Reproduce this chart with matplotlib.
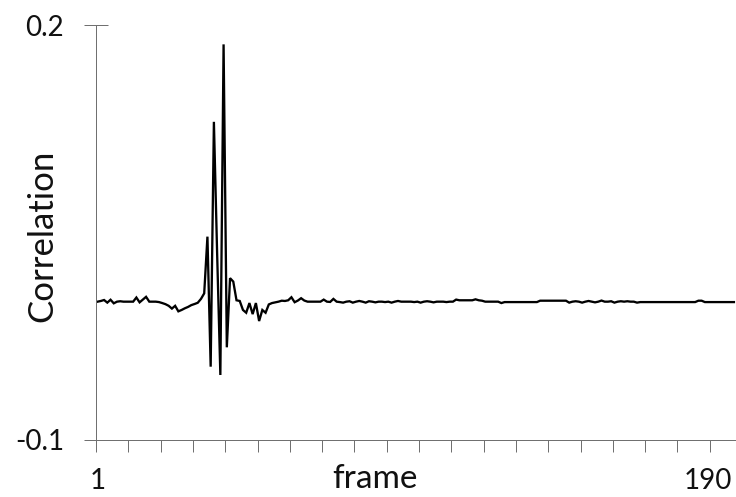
import numpy as np
import matplotlib
matplotlib.use('Agg')
import matplotlib.pyplot as plt

# ── Data: correlation per frame ─────────────────────────────────────────
corr_start = [  # frames 1-34
    0.0, 0.0005, 0.0012, -0.0007, 0.0014, -0.0012, 0.0, 0.0003, 0.0, 0.0,
    0.0, 0.0, 0.003, -0.0005, 0.0015, 0.0035, 0.0, 0.0, 0.0, -0.0003,
    -0.001, -0.0018, -0.003, -0.005, -0.003, -0.007, -0.006, -0.0048, -0.0038, -0.0025,
    -0.0017, -0.0008, 0.002, 0.006,
]
corr_spike = [  # frames 35-54
    0.047, -0.047, 0.130, 0.035, -0.053, 0.186, -0.033, 0.017, 0.0145, 0.001,
    0.0005, -0.006, -0.008, -0.001, -0.009, -0.001, -0.014, -0.006, -0.008, -0.002,
]
corr_tail = [  # frames 55-198
    -0.001, -0.0005, 0.0, 0.0007, 0.0005, 0.001, 0.0032, -0.0004, 0.0008, 0.0025,
    0.0008, 0.0, 0.0, 0.0, 0.0, 0.0, 0.0015, 0.0, -0.0002, 0.002,
    0.0, -0.0003, -0.0007, 0.0, 0.0003, -0.0007, 0.0, 0.0005, 0.0, -0.0007,
    0.0003, 0.0, -0.0005, 0.0, 0.0, -0.0003, 0.0, -0.0007, 0.0, 0.0005,
    0.0, 0.0, 0.0, 0.0, -0.0003, 0.0, -0.0007, 0.0, 0.0003, 0.0,
    -0.0005, 0.0, 0.0, 0.0, -0.0003, 0.0, 0.0, 0.0015, 0.001, 0.001,
    0.001, 0.001, 0.001, 0.0017, 0.001, 0.0007, 0.0, 0.0, 0.0, 0.0,
    0.0, -0.001, -0.0003, -0.0003, -0.0003, -0.0003, -0.0003, -0.0003, -0.0003, -0.0003,
    -0.0003, -0.0003, -0.0003, 0.0007, 0.0007, 0.0007, 0.0007, 0.0007, 0.0007, 0.0007,
    0.0007, 0.0007, -0.0007, 0.0, 0.0003, 0.0, -0.0007, 0.0, 0.0005, 0.0,
    -0.0005, 0.0, 0.0008, 0.0, 0.0, 0.0003, -0.0007, 0.0, 0.0003, 0.0,
    0.0003, 0.0, 0.0, -0.0007, -0.0003, -0.0003, -0.0003, -0.0003, -0.0003, -0.0003,
    -0.0003, -0.0003, -0.0003, -0.0003, -0.0003, -0.0003, -0.0003, -0.0003, -0.0003, -0.0003,
    -0.0003, -0.0003, 0.0007, 0.0007, -0.0003, -0.0003, -0.0003, -0.0003, -0.0003, -0.0003,
    -0.0003, -0.0003, -0.0003, -0.0003,
]
corr = np.array(corr_start + corr_spike + corr_tail)
frames = np.arange(1, len(corr) + 1)

x_labels = ['1', '190']
x_label_pos = [1, 190]
y_ticks = [-0.1, 0.2]
y_tick_labels = ['-0.1', '0.2']

# ── Plot ────────────────────────────────────────────────────────────────
plt.rcParams['font.family'] = ['Lato', 'DejaVu Sans']
axis_col = '#707070'
txt_col = '#111111'
px = 0.72  # points per pixel at dpi 100

fig = plt.figure(figsize=(7.36, 4.97), dpi=100)
W, H = 736, 497
ax = fig.add_axes([96 / W, (H - 440) / H, (W - 96) / W, 415 / H])

ax.plot(frames, corr, color='black', linewidth=2.3 * px, solid_joinstyle='miter')

ax.set_xlim(0.5, 0.5 + 640 / 3.23)
ax.set_ylim(-0.1, 0.2)

for s in ['top', 'right']:
    ax.spines[s].set_visible(False)
for s in ['left', 'bottom']:
    ax.spines[s].set_color(axis_col)
    ax.spines[s].set_linewidth(1.0 * px)

# x: tick marks every 10 frames (between categories), labels only at 1 and 190
ax.set_xticks(np.arange(0.5, 200, 10), minor=True)
ax.set_xticks(x_label_pos, labels=x_labels)
ax.tick_params(axis='x', which='minor', direction='out', length=12 * px,
               width=1.0 * px, color=axis_col)
ax.tick_params(axis='x', which='major', length=0, pad=28 * px,
               labelsize=20, labelcolor=txt_col)

ax.set_yticks(y_ticks, labels=y_tick_labels)
ax.tick_params(axis='y', direction='inout', length=24 * px, width=1.0 * px,
               color=axis_col, pad=20 * px, labelsize=20, labelcolor=txt_col)

fig.text(375 / W, 1 - 479 / H, 'frame', ha='center', va='center',
         fontsize=24, color=txt_col)
fig.text(42 / W, 1 - 236 / H, 'Correlation', ha='center', va='center',
         rotation=90, fontsize=25, color=txt_col)

fig.savefig('out.png', dpi=100)
